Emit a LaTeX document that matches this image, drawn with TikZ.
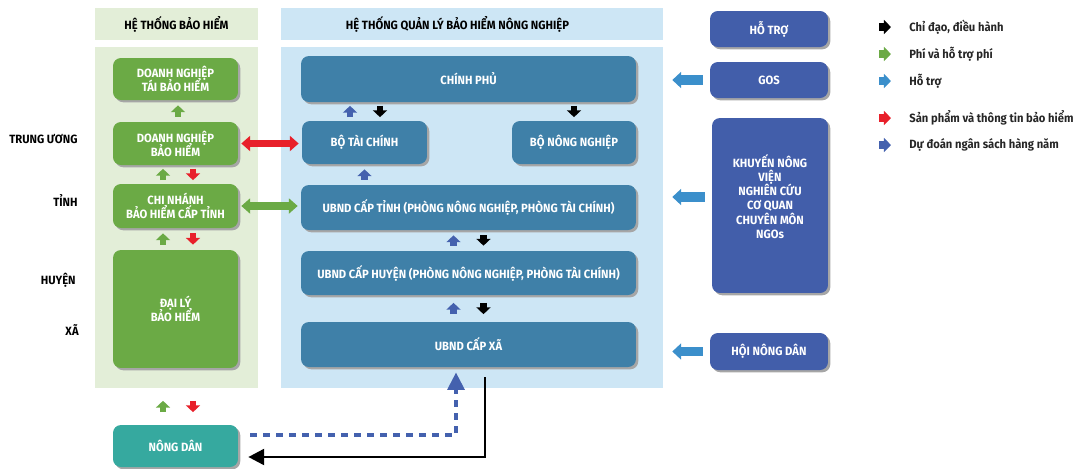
\documentclass[tikz,border=0pt]{standalone}
\usepackage{fontspec}
\setmainfont{Fira Sans}[FakeStretch=0.94]
\usetikzlibrary{arrows.meta,shadows}

\definecolor{pgreen}{HTML}{E3EED8}
\definecolor{pblue}{HTML}{CDE6F5}
\definecolor{bgreen}{HTML}{6BAA45}
\definecolor{bsteel}{HTML}{3F80A8}
\definecolor{bindigo}{HTML}{425EAA}
\definecolor{bteal}{HTML}{36A99F}
\definecolor{ared}{HTML}{E8202A}
\definecolor{asky}{HTML}{3B8FCB}
\definecolor{adark}{HTML}{4461AE}

\newcommand{\boxfont}{\bfseries\fontsize{6.8}{8}\selectfont\lineskiplimit=-10pt\relax}

\tikzset{
  txt/.style={font=\boxfont},
  panel/.style={rectangle, inner sep=0pt, txt},
  box/.style={rectangle, rounded corners=4.5pt, txt, text=white, align=center,
    drop shadow={shadow xshift=1.3pt, shadow yshift=-1.3pt, fill=black!35, opacity=1}},
  flow/.style={line width=3.8pt, -{Triangle[width=7.8pt,length=3.8pt]},
    shorten <=1mm, shorten >=1mm},
  twoway/.style={line width=4pt, {Triangle[width=8.5pt,length=5pt]}-{Triangle[width=8.5pt,length=5pt]},
    shorten <=0.6mm, shorten >=0.6mm},
  helps/.style={asky, line width=5.5pt, -{Triangle[width=9pt,length=5pt]},
    shorten <=1.4mm, shorten >=1.8mm},
  legarrow/.style={line width=4.6pt, -{Triangle[width=7.8pt,length=4pt]}},
  legtext/.style={anchor=west, inner xsep=0pt, txt, text=black!85},
  level/.style={anchor=east, inner xsep=0pt, txt},
}

\begin{document}
\begin{tikzpicture}[x=0.02cm, y=-0.02cm]
\useasboundingbox (0,0) rectangle (1083,468);

% Panels and their headers
\node[panel, fill=pgreen, minimum width=32.6mm, minimum height=6.4mm] (hdrleft) at (176.5,24) {HỆ THỐNG BẢO HIỂM};
\node[panel, fill=pgreen, minimum width=32.6mm, minimum height=68.2mm] (leftpanel) at (176.5,217.5) {};
\node[panel, fill=pblue, minimum width=76.4mm, minimum height=6.4mm,
  label={[txt, xshift=-2.9mm]center:HỆ THỐNG QUẢN LÝ BẢO HIỂM NÔNG NGHIỆP}] (hdrmid) at (472,24) {};
\node[panel, fill=pblue, minimum width=76.4mm, minimum height=68.2mm] (midpanel) at (472,217.5) {};

% Level labels
\node[level] (lvtw) at (78,139) {TRUNG ƯƠNG};
\node[level] (lvtinh) at (78,201) {TỈNH};
\node[level] (lvhuyen) at (76,280) {HUYỆN};
\node[level] (lvxa) at (79,330) {XÃ};

% Insurance side
\node[box, fill=bgreen, minimum width=25mm, minimum height=8.4mm] (taibh) at (175.5,79) {DOANH NGHIỆP\\TÁI BẢO HIỂM};
\node[box, fill=bgreen, minimum width=25mm, minimum height=8.6mm] (dnbh) at (175.5,143.5) {DOANH NGHIỆP\\BẢO HIỂM};
\node[box, fill=bgreen, minimum width=25mm, minimum height=8.8mm] (cnbh) at (175.5,206) {CHI NHÁNH\\BẢO HIỂM CẤP TỈNH};
\node[box, fill=bgreen, minimum width=25mm, minimum height=23.6mm] (daily) at (175.5,309) {ĐẠI LÝ\\BẢO HIỂM};
\node[box, fill=bteal, minimum width=25mm, minimum height=8.4mm] (nongdan) at (175.5,446) {NÔNG DÂN};

% Management side
\node[box, fill=bsteel, minimum width=67mm, minimum height=9.2mm] (chinhphu) at (468.5,79) {CHÍNH PHỦ};
\node[box, fill=bsteel, minimum width=25mm, minimum height=8.6mm] (botc) at (364.5,142.5) {BỘ TÀI CHÍNH};
\node[box, fill=bsteel, minimum width=24.8mm, minimum height=8.6mm] (bonn) at (574,142.5) {BỘ NÔNG NGHIỆP};
\node[box, fill=bsteel, minimum width=67mm, minimum height=9mm] (tinh) at (468.5,207.5) {UBND CẤP TỈNH (PHÒNG NÔNG NGHIỆP, PHÒNG TÀI CHÍNH)};
\node[box, fill=bsteel, minimum width=67mm, minimum height=8.8mm] (huyen) at (468.5,273) {UBND CẤP HUYỆN (PHÒNG NÔNG NGHIỆP, PHÒNG TÀI CHÍNH)};
\node[box, fill=bsteel, minimum width=67mm, minimum height=9mm] (xa) at (468.5,344.5) {UBND CẤP XÃ};

% Support side
\node[box, fill=bindigo, minimum width=23.6mm, minimum height=7.2mm] (hotro) at (769,29) {HỖ TRỢ};
\node[box, fill=bindigo, minimum width=23.6mm, minimum height=7.2mm] (gos) at (769,80) {GOS};
\node[box, fill=bindigo, minimum width=23.2mm, minimum height=35mm,
  label={[txt, text=white, align=center, yshift=1.8mm]center:KHUYẾN NÔNG\\VIỆN\\NGHIÊN CỨU\\CƠ QUAN\\CHUYÊN MÔN\\NGOs}] (kn) at (770,205.5) {};
\node[box, fill=bindigo, minimum width=23.6mm, minimum height=7.4mm] (hnd) at (769,351.5) {HỘI NÔNG DÂN};

% Small flows inside the insurance column
\draw[flow, bgreen] ([xshift=0.5mm]dnbh.north) -- ([xshift=0.5mm]taibh.south);
\draw[flow, bgreen, shorten <=0.7mm, shorten >=0.7mm] ([xshift=-2.5mm]cnbh.north) -- ([xshift=-2.5mm]dnbh.south);
\draw[flow, ared, shorten <=0.7mm, shorten >=0.7mm] ([xshift=3.5mm]dnbh.south) -- ([xshift=3.5mm]cnbh.north);
\draw[flow, bgreen] ([xshift=-2.5mm]daily.north) -- ([xshift=-2.5mm]cnbh.south);
\draw[flow, ared] ([xshift=3.5mm]cnbh.south) -- ([xshift=3.5mm]daily.north);
\draw[flow, bgreen, shorten <=2.5mm, shorten >=2.5mm] ([xshift=-2.5mm]nongdan.north) -- ([xshift=-2.5mm]nongdan.north |- leftpanel.south);
\draw[flow, ared, shorten <=2.5mm, shorten >=2.5mm] ([xshift=3.5mm]nongdan.north |- leftpanel.south) -- ([xshift=3.5mm]nongdan.north);

% Small flows inside the management column
\draw[flow, adark, shorten <=0.7mm, shorten >=0.7mm] ([xshift=-2.9mm]botc.north) -- ([xshift=-2.9mm]botc.north |- chinhphu.south);
\draw[flow, black, shorten <=0.7mm, shorten >=0.7mm] ([xshift=3.1mm]botc.north |- chinhphu.south) -- ([xshift=3.1mm]botc.north);
\draw[flow, black, shorten <=0.7mm, shorten >=0.7mm] (bonn.north |- chinhphu.south) -- (bonn.north);
\draw[flow, adark] (botc.south |- tinh.north) -- (botc.south);
\draw[flow, adark] ([xshift=-3mm]huyen.north) -- ([xshift=-3mm]tinh.south);
\draw[flow, black] ([xshift=3mm]tinh.south) -- ([xshift=3mm]huyen.north);
\draw[flow, adark, shorten <=1.5mm, shorten >=1.5mm] ([xshift=-3mm]xa.north) -- ([xshift=-3mm]huyen.south);
\draw[flow, black, shorten <=1.5mm, shorten >=1.5mm] ([xshift=3mm]huyen.south) -- ([xshift=3mm]xa.north);

% Between the two columns
\draw[twoway, ared] (dnbh.east) -- (dnbh.east -| botc.west);
\draw[twoway, bgreen] (cnbh.east) -- (cnbh.east -| tinh.west);

% Support arrows
\draw[helps] (gos.west) -- (gos.west -| midpanel.east);
\draw[helps] ([yshift=1.7mm]kn.west) -- ([yshift=1.7mm]kn.west -| midpanel.east);
\draw[helps] (hnd.west) -- (hnd.west -| midpanel.east);

% Farmer loop
\draw[adark, line width=2.3pt, dash pattern=on 4pt off 3.4pt, -{Triangle[width=9.5pt,length=10pt]}, shorten >=1mm]
  ([xshift=2.4mm, yshift=2.2mm]nongdan.east) -| ([xshift=-2.5mm]xa.south);
\draw[black, line width=1.6pt, -{Triangle[width=9pt,length=9pt]}]
  ([xshift=3.3mm, yshift=-2mm]xa.south) |- ([xshift=2mm, yshift=-2.2mm]nongdan.east);

% Legend
\node[legtext] (lg1) at (909,27) {Chỉ đạo, điều hành};
\node[legtext] (lg2) at (909,54) {Phí và hỗ trợ phí};
\node[legtext] (lg3) at (909,81) {Hỗ trợ};
\node[legtext] (lg4) at (909,118) {Sản phẩm và thông tin bảo hiểm};
\node[legtext] (lg5) at (909,145) {Dự đoán ngân sách hàng năm};
\foreach \lg/\col in {lg1/black, lg2/bgreen, lg3/asky, lg4/ared, lg5/adark}
  \draw[legarrow, \col] ([xshift=-6mm]\lg.west) -- ([xshift=-3.6mm]\lg.west);

\end{tikzpicture}
\end{document}
